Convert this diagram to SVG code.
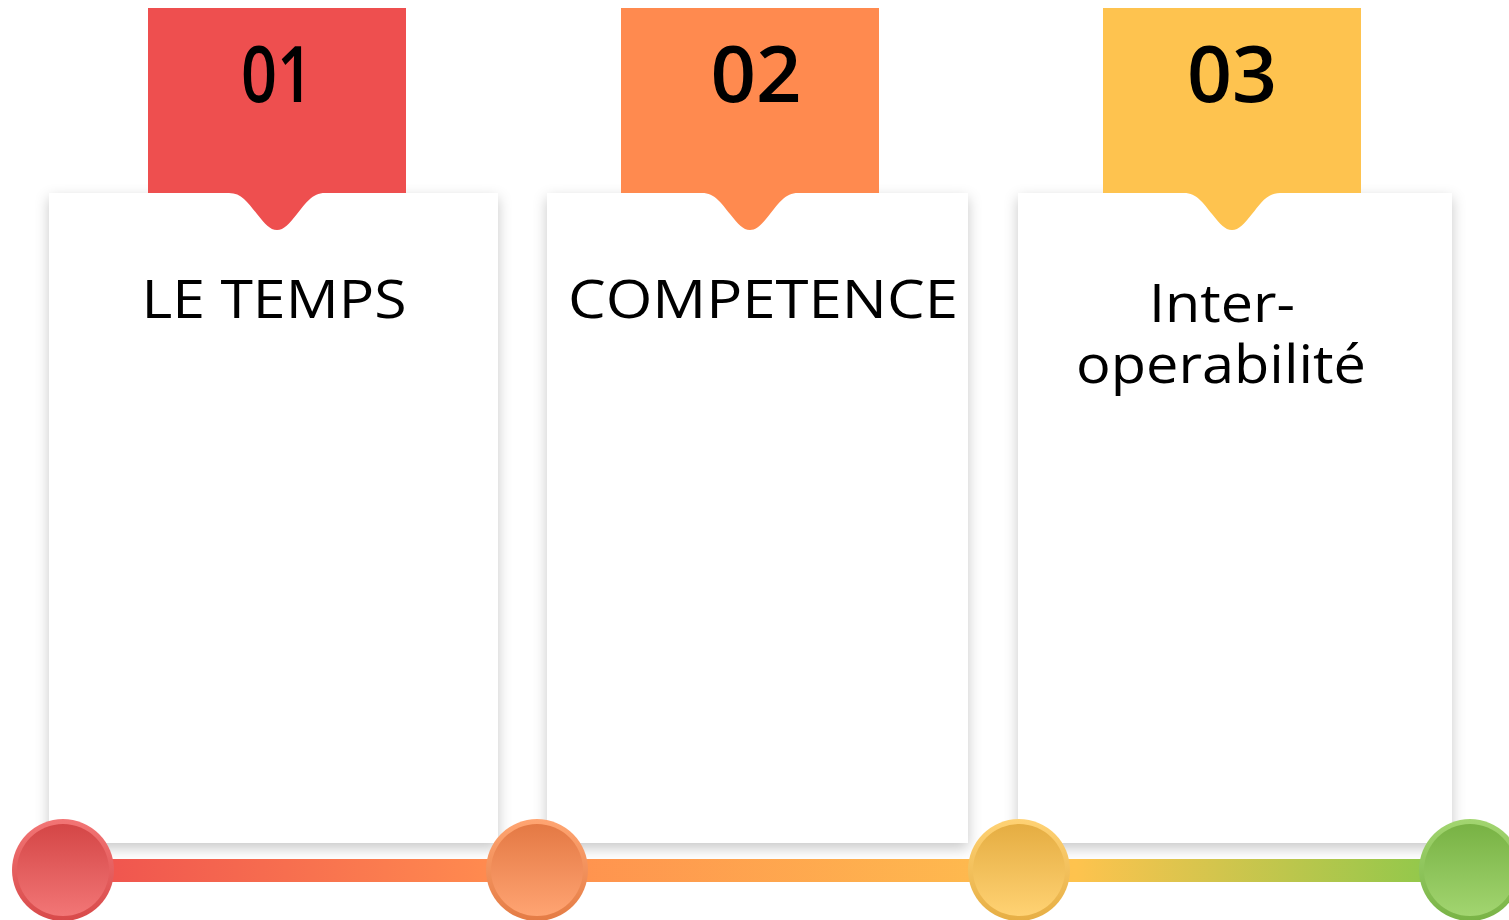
<svg xmlns="http://www.w3.org/2000/svg" width="1509" height="920" viewBox="0 0 1509 920">
  <style>
    .card { fill: #ffffff; filter: url(#cardShadow); }
    .num { font-family: "Open Sans", "Liberation Sans", sans-serif; font-weight: 600; font-size: 78px; fill: #000000; text-anchor: middle; }
    .title { font-family: "Open Sans", "Liberation Sans", sans-serif; font-weight: 400; font-size: 53px; fill: #000000; text-anchor: middle; }
  </style>
  <defs>
    <filter id="cardShadow" x="-10%" y="-10%" width="120%" height="120%">
      <feDropShadow dx="0" dy="5" stdDeviation="7" flood-color="#000000" flood-opacity="0.22"/>
    </filter>
    <linearGradient id="barGrad" gradientUnits="userSpaceOnUse" x1="63" y1="0" x2="1470" y2="0">
      <stop offset="0" stop-color="#EE4F4F"/>
      <stop offset="0.3" stop-color="#FF8A4F"/>
      <stop offset="0.72" stop-color="#FEC34E"/>
      <stop offset="0.97" stop-color="#92C84B"/>
    </linearGradient>
    <!-- node ring / core gradients -->
    <linearGradient id="ring1" x1="0" y1="0" x2="0" y2="1"><stop offset="0" stop-color="#F27575"/><stop offset="1" stop-color="#D84A4A"/></linearGradient>
    <linearGradient id="core1" x1="0" y1="0" x2="0" y2="1"><stop offset="0" stop-color="#D44646"/><stop offset="1" stop-color="#F27676"/></linearGradient>
    <linearGradient id="ring2" x1="0" y1="0" x2="0" y2="1"><stop offset="0" stop-color="#FFA572"/><stop offset="1" stop-color="#E47C45"/></linearGradient>
    <linearGradient id="core2" x1="0" y1="0" x2="0" y2="1"><stop offset="0" stop-color="#E47944"/><stop offset="1" stop-color="#FFA472"/></linearGradient>
    <linearGradient id="ring3" x1="0" y1="0" x2="0" y2="1"><stop offset="0" stop-color="#FFD274"/><stop offset="1" stop-color="#E6AE44"/></linearGradient>
    <linearGradient id="core3" x1="0" y1="0" x2="0" y2="1"><stop offset="0" stop-color="#E5AD42"/><stop offset="1" stop-color="#FFD273"/></linearGradient>
    <linearGradient id="ring4" x1="0" y1="0" x2="0" y2="1"><stop offset="0" stop-color="#A2D570"/><stop offset="1" stop-color="#79B346"/></linearGradient>
    <linearGradient id="core4" x1="0" y1="0" x2="0" y2="1"><stop offset="0" stop-color="#78B244"/><stop offset="1" stop-color="#A2D570"/></linearGradient>
  </defs>

  <rect x="0" y="0" width="1509" height="920" fill="#ffffff"/>

  <!-- cards -->
  <g id="card-1"><rect class="card" x="49" y="193" width="449" height="650"/></g>
  <g id="card-2"><rect class="card" x="547" y="193" width="421" height="650"/></g>
  <g id="card-3"><rect class="card" x="1018" y="193" width="434" height="650"/></g>

  <!-- timeline bar -->
  <g id="connectors">
    <rect x="63" y="859" width="1407" height="23" fill="url(#barGrad)"/>
  </g>

  <!-- step 01 -->
  <g id="step-01">
    <rect x="148" y="8" width="258" height="185" fill="#EE4F4F"/>
    <path d="M229,193 C242,193 248,203 257,214 C265,224 270,230 277,230 C284,230 289,224 297,214 C306,203 312,193 325,193 Z" fill="#EE4F4F"/>
    <text class="num" x="277" y="102" textLength="72" lengthAdjust="spacingAndGlyphs">01</text>
    <text class="title" x="274" y="318" textLength="265" lengthAdjust="spacingAndGlyphs">LE TEMPS</text>
  </g>

  <!-- step 02 -->
  <g id="step-02">
    <rect x="621" y="8" width="258" height="185" fill="#FF8A4F"/>
    <path d="M702,193 C715,193 721,203 730,214 C738,224 743,230 750,230 C757,230 762,224 770,214 C779,203 785,193 798,193 Z" fill="#FF8A4F"/>
    <text class="num" x="756" y="102" textLength="91" lengthAdjust="spacingAndGlyphs">02</text>
    <text class="title" x="763" y="318" textLength="390" lengthAdjust="spacingAndGlyphs">COMPETENCE</text>
  </g>

  <!-- step 03 : two-line title -->
  <g id="step-03">
    <rect x="1103" y="8" width="258" height="185" fill="#FEC34F"/>
    <path d="M1184,193 C1197,193 1203,203 1212,214 C1220,224 1225,230 1232,230 C1239,230 1244,224 1252,214 C1261,203 1267,193 1280,193 Z" fill="#FEC34F"/>
    <text class="num" x="1232" y="102" textLength="90" lengthAdjust="spacingAndGlyphs">03</text>
    <text class="title"><tspan x="1222" y="322" textLength="146" lengthAdjust="spacingAndGlyphs">Inter-</tspan><tspan x="1221" y="383" textLength="290" lengthAdjust="spacingAndGlyphs">operabilité</tspan></text>
  </g>

  <!-- timeline markers -->
  <g id="marker-1"><circle cx="63" cy="870" r="51" fill="url(#ring1)"/><circle cx="63" cy="870" r="46" fill="url(#core1)"/></g>
  <g id="marker-2"><circle cx="537" cy="870" r="51" fill="url(#ring2)"/><circle cx="537" cy="870" r="46" fill="url(#core2)"/></g>
  <g id="marker-3"><circle cx="1019" cy="870" r="51" fill="url(#ring3)"/><circle cx="1019" cy="870" r="46" fill="url(#core3)"/></g>
  <g id="marker-4"><circle cx="1470" cy="870" r="51" fill="url(#ring4)"/><circle cx="1470" cy="870" r="46" fill="url(#core4)"/></g>
</svg>
